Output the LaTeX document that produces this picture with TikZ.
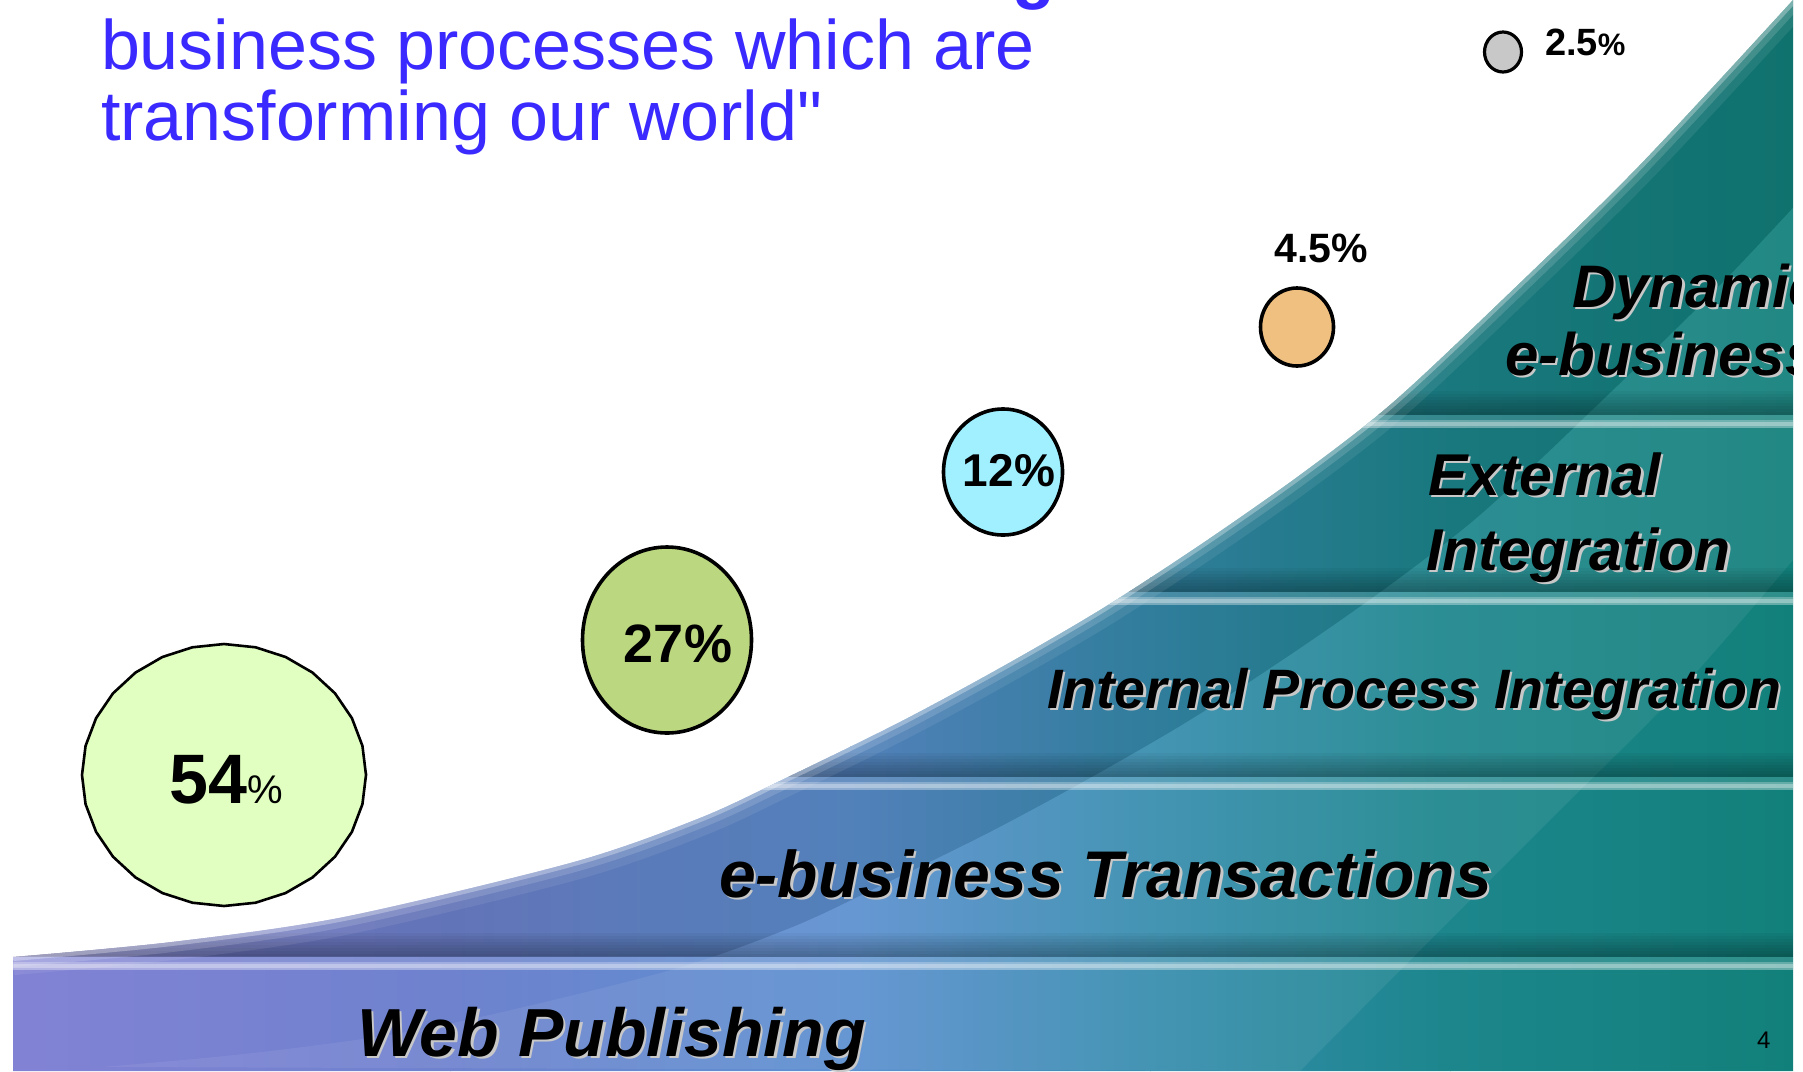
\documentclass[tikz,border=0pt]{standalone}
\usepackage{fontspec}
\setmainfont{Liberation Sans}
\newfontfamily\titlefont{Liberation Sans}[Ligatures=TeXOff]
\usetikzlibrary{shapes.geometric}
\definecolor{titleblue}{RGB}{58,42,255}
\definecolor{ga}{RGB}{130,130,212}
\definecolor{gb}{RGB}{110,130,206}
\definecolor{gc}{RGB}{92,144,208}
\definecolor{gd}{RGB}{54,140,174}
\definecolor{ge}{RGB}{28,134,140}
\definecolor{gf}{RGB}{18,128,122}
\definecolor{c54}{RGB}{224,255,192}
\definecolor{c27}{RGB}{187,215,128}
\definecolor{c12}{RGB}{160,240,255}
\definecolor{c45}{RGB}{240,192,128}
\definecolor{c25}{RGB}{200,200,200}
\definecolor{shadowgray}{RGB}{200,200,200}
\begin{document}
\begin{tikzpicture}[x=1pt,y=-1pt,
  lbl/.style={inner sep=0pt, outer sep=0pt, anchor=base west, font=\bfseries\itshape\fontsize{#1}{#1}\selectfont},
  pct/.style={inner sep=0pt, outer sep=0pt, anchor=base, font=\bfseries\fontsize{#1}{#1}\selectfont},
  bubble/.style={ellipse, draw=black, line width=3.6pt, inner sep=0pt},
  ttl/.style={inner sep=0pt, outer sep=0pt, anchor=base west, text=titleblue, font=\titlefont\fontsize{70}{71}\selectfont}]
\useasboundingbox (0,0) rectangle (1803,1071);
\fill[white] (0,0) rectangle (1803,1071);

% ---------- stair shape ----------
\begin{scope}
\clip (13,1071) -- plot[smooth] coordinates {(13,957) (172,942) (344,917) (574,862) (700,818) (788,777) (900,722) (1000,668) (1100,610) (1200,545) (1300,475) (1390,405) (1497,305) (1638,167) (1793,0)} -- (1793,1071) -- cycle;
\shade[left color=ga, right color=gb] (13,0) rectangle (451,1071);
\shade[left color=gb, right color=gc] (450,0) rectangle (851,1071);
\shade[left color=gc, right color=gd] (850,0) rectangle (1151,1071);
\shade[left color=gd, right color=ge] (1150,0) rectangle (1451,1071);
\shade[left color=ge, right color=gf] (1450,0) rectangle (1793,1071);
% darker zone along the curve (above the lowest band only)
\begin{scope}
\clip (0,0) rectangle (1803,955);
\fill[black, opacity=0.10] plot[smooth] coordinates {(13,957) (172,942) (344,917) (574,862) (700,818) (788,777) (900,722) (1000,668) (1100,610) (1200,545) (1300,475) (1390,405) (1497,305) (1638,167) (1793,0)}
  -- plot[smooth] coordinates {(1883,110) (1728,277) (1587,415) (1480,515) (1390,585) (1290,655) (1190,720) (1090,778) (990,832) (878,887) (790,928) (664,972) (434,1027) (262,1052) (103,1067)} -- cycle;
\end{scope}
% lighter diagonal streak
\fill[white, opacity=0.07] plot[smooth] coordinates {(1883,110) (1728,277) (1587,415) (1480,515) (1390,585) (1290,655) (1190,720) (1090,778) (990,832) (878,887) (790,928) (664,972) (434,1027) (262,1052) (103,1067)}
  -- plot[smooth] coordinates {(1300,1071) (1530,840) (1680,690) (1793,560)} -- (1900,0) -- cycle;
% band dividers
\foreach \yb in {415,592,777,957}{
  \foreach \k in {1,...,8}{
    \fill[black, opacity=0.04] (13,{\yb-3*\k}) rectangle (1793,\yb);
  }
  \fill[white, opacity=0.12] (13,\yb) rectangle (1793,{\yb+5});
  \fill[white, opacity=0.35] (13,{\yb+5}) rectangle (1793,{\yb+13});
  \fill[white, opacity=0.30] (13,{\yb+7}) rectangle (1793,{\yb+11});
}
% soft glow along the curve
\draw[white, line width=36pt, opacity=0.08] plot[smooth] coordinates {(13,957) (172,942) (344,917) (574,862) (700,818) (788,777) (900,722) (1000,668) (1100,610) (1200,545) (1300,475) (1390,405) (1497,305) (1638,167) (1793,0)};
\draw[white, line width=20pt, opacity=0.14] plot[smooth] coordinates {(13,957) (172,942) (344,917) (574,862) (700,818) (788,777) (900,722) (1000,668) (1100,610) (1200,545) (1300,475) (1390,405) (1497,305) (1638,167) (1793,0)};
\draw[white, line width=8pt, opacity=0.30] plot[smooth] coordinates {(13,957) (172,942) (344,917) (574,862) (700,818) (788,777) (900,722) (1000,668) (1100,610) (1200,545) (1300,475) (1390,405) (1497,305) (1638,167) (1793,0)};
\end{scope}

% ---------- title ----------
\node[ttl] (t1) at (101,69) {business processes which are};
\node[ttl] (t2) at (101,140) {transforming our world"};
\node[inner sep=0pt, outer sep=0pt, anchor=base west, text=titleblue, font=\bfseries\fontsize{70}{71}\selectfont] (t0) at (1012,-5) {g};

% ---------- bubbles ----------
\draw[line width=2.6pt, fill=c54] plot[samples=29, domain=0:360] ({224+142*cos(\x)}, {775+131*sin(\x)}) -- cycle;
\node[inner sep=0pt, outer sep=0pt, anchor=base] (p54) at (226,803) {\bfseries\fontsize{70}{70}\selectfont 54\mdseries\fontsize{40}{40}\selectfont\%};
\node[bubble, fill=c27, minimum width=169pt, minimum height=186pt] (b27) at (667,640) {};
\node[pct=54] (p27) at (678,662) {27\%};
\node[bubble, fill=c12, minimum width=119pt, minimum height=126pt] (b12) at (1003,472) {};
\node[pct=46] (p12) at (1009,486) {12\%};
\node[bubble, fill=c45, minimum width=73pt, minimum height=78pt] (b45) at (1297,327) {};
\node[pct=41] (p45) at (1321,262) {4.5\%};
\node[bubble, fill=c25, minimum width=37pt, minimum height=40pt, line width=3.2pt] (b25) at (1503,52) {};
\node[inner sep=0pt, outer sep=0pt, anchor=base west] (p25) at (1545,55) {\bfseries\fontsize{38}{38}\selectfont 2.5\fontsize{31}{31}\selectfont\%};

% ---------- band labels ----------
\node[lbl=68, text=shadowgray] (webS) at (359.5,1058.5) {Web Publishing};
\node[lbl=68] (web) at (357,1056) {Web Publishing};
\node[lbl=66, text=shadowgray] (ebtS) at (721.5,899.5) {e-business Transactions};
\node[lbl=66] (ebt) at (719,897) {e-business Transactions};
\node[lbl=55.5, text=shadowgray] (ipiS) at (1049.5,710.5) {Internal Process Integration};
\node[lbl=55.5] (ipi) at (1047,708) {Internal Process Integration};
\node[lbl=59, text=shadowgray] (ext1S) at (1430.5,497.5) {External};
\node[lbl=59] (ext1) at (1428,495) {External};
\node[lbl=59, text=shadowgray] (ext2S) at (1428.5,572.5) {Integration};
\node[lbl=59] (ext2) at (1426,570) {Integration};
\begin{scope}
\clip (0,0) rectangle (1793,1071);
\node[lbl=60, text=shadowgray] (dyn1S) at (1574.5,309.5) {Dynamic};
\node[lbl=60] (dyn1) at (1572,307) {Dynamic};
\node[lbl=60, text=shadowgray] (dyn2S) at (1507.5,377.5) {e-business};
\node[lbl=60] (dyn2) at (1505,375) {e-business};
\end{scope}

\node[inner sep=0pt, anchor=base west, font=\fontsize{24}{24}\selectfont] (pg) at (1757,1048) {4};
\end{tikzpicture}
\end{document}
